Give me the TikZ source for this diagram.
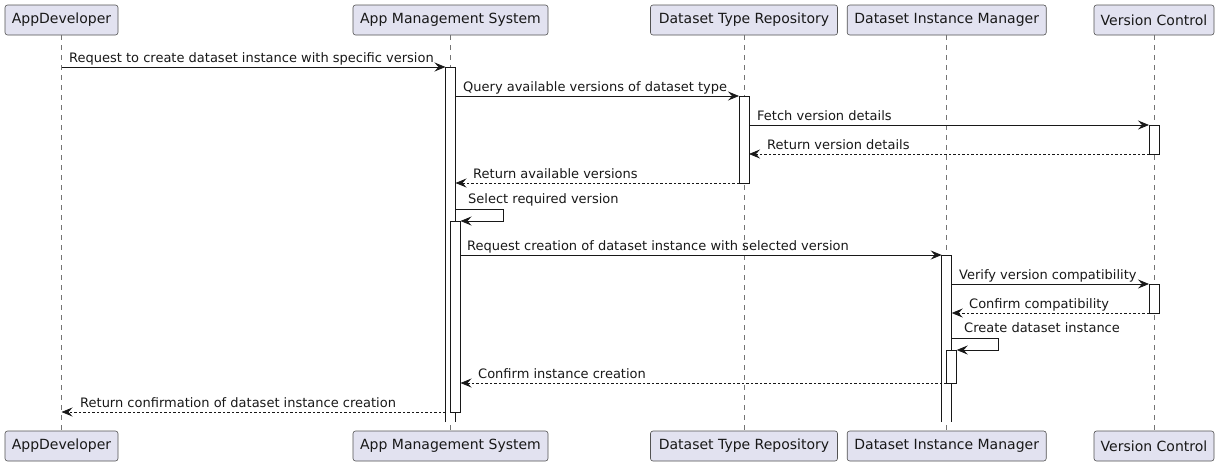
\documentclass[tikz,border=0pt]{standalone}
\usepackage{fontspec}
\setmainfont{DejaVu Sans}
\usetikzlibrary{arrows.meta}
\definecolor{partfill}{HTML}{E2E2F0}
\definecolor{lineclr}{HTML}{181818}
\begin{document}
\begin{tikzpicture}[x=1pt,y=-1pt,
 part/.style={draw=lineclr!75, fill=partfill, rounded corners=2.5pt, line width=0.6pt,
   minimum height=30pt, inner sep=0pt, font=\fontsize{14}{16}\selectfont, text=lineclr},
 life/.style={draw=lineclr!60, dash pattern=on 5pt off 5pt, line width=0.6pt},
 actbar/.style={draw=lineclr, fill=white, line width=0.8pt},
 msg/.style={draw=lineclr, line width=0.8pt, -{Stealth[length=11pt,width=9pt,inset=4pt]}},
 ret/.style={msg, dash pattern=on 2.5pt off 2pt},
 lbl/.style={anchor=base west, font=\fontsize{13}{15}\selectfont, text=lineclr, inner sep=0pt}
]
\useasboundingbox (0,0) rectangle (1220,466);
% participants
\node[part, minimum width=113pt] (pA)  at (61.5,20) {AppDeveloper};
\node[part, minimum width=195pt] (pB)  at (450.5,20) {App Management System};
\node[part, minimum width=187pt] (pC)  at (744,20) {Dataset Type Repository};
\node[part, minimum width=199pt] (pD)  at (946.7,20) {Dataset Instance Manager};
\node[part, minimum width=120pt] (pE)  at (1154,20) {Version Control};
\node[part, minimum width=113pt] (pAb) at (61.5,446) {AppDeveloper};
\node[part, minimum width=195pt] (pBb) at (450.5,446) {App Management System};
\node[part, minimum width=187pt] (pCb) at (744,446) {Dataset Type Repository};
\node[part, minimum width=199pt] (pDb) at (946.7,446) {Dataset Instance Manager};
\node[part, minimum width=120pt] (pEb) at (1154,446) {Version Control};
% lifelines
\foreach \p in {A,B,C,D,E}{\draw[life] (p\p.south) -- (p\p b.north);}
% activation bars
\fill[white] (445.5,67) rectangle (455.5,422);
\draw[lineclr, line width=0.8pt] (445.5,422) -- (445.5,67) -- (455.5,67) -- (455.5,422);
\draw[actbar] (739,96) rectangle (749,183);
\draw[actbar] (1149,125) rectangle (1159,154);
\draw[actbar] (450.5,221) rectangle (460.5,412);
\fill[white] (941.7,255) rectangle (951.7,422);
\draw[lineclr, line width=0.8pt] (941.7,422) -- (941.7,255) -- (951.7,255) -- (951.7,422);
\draw[actbar] (1149,284) rectangle (1159,313);
\draw[actbar] (946.7,350) rectangle (956.7,383);
% message end points
\coordinate (m1s) at (61.5,67);   \coordinate (m1e) at (445.5,67);
\coordinate (m2s) at (455.5,96);  \coordinate (m2e) at (739,96);
\coordinate (m3s) at (749,125);   \coordinate (m3e) at (1149,125);
\coordinate (m4s) at (1149,154);  \coordinate (m4e) at (749,154);
\coordinate (m5s) at (739,183);   \coordinate (m5e) at (455.5,183);
\coordinate (m6s) at (455.5,209); \coordinate (m6a) at (503.5,209);
\coordinate (m6b) at (503.5,221); \coordinate (m6e) at (460.5,221);
\coordinate (m7s) at (460.5,255); \coordinate (m7e) at (941.7,255);
\coordinate (m8s) at (951.7,284); \coordinate (m8e) at (1149,284);
\coordinate (m9s) at (1149,313);  \coordinate (m9e) at (951.7,313);
\coordinate (m10s) at (951.7,338); \coordinate (m10a) at (998.5,338);
\coordinate (m10b) at (998.5,350); \coordinate (m10e) at (956.7,350);
\coordinate (m11s) at (946.7,383); \coordinate (m11e) at (460.5,383);
\coordinate (m12s) at (445.5,412); \coordinate (m12e) at (61.5,412);
% messages
\draw[msg] (m1s) -- (m1e);
\node[lbl] (t1) at (69,62.5) {Request to create dataset instance with specific version};
\draw[msg] (m2s) -- (m2e);
\node[lbl] (t2) at (463,91.5) {Query available versions of dataset type};
\draw[msg] (m3s) -- (m3e);
\node[lbl] (t3) at (757,120.5) {Fetch version details};
\draw[ret] (m4s) -- (m4e);
\node[lbl] (t4) at (767,149.5) {Return version details};
\draw[ret] (m5s) -- (m5e);
\node[lbl] (t5) at (473,178.5) {Return available versions};
\draw[msg] (m6s) -- (m6a) -- (m6b) -- (m6e);
\node[lbl] (t6) at (468,203.5) {Select required version};
\draw[msg] (m7s) -- (m7e);
\node[lbl] (t7) at (467,250.5) {Request creation of dataset instance with selected version};
\draw[msg] (m8s) -- (m8e);
\node[lbl] (t8) at (959,279.5) {Verify version compatibility};
\draw[ret] (m9s) -- (m9e);
\node[lbl] (t9) at (969,308.5) {Confirm compatibility};
\draw[msg] (m10s) -- (m10a) -- (m10b) -- (m10e);
\node[lbl] (t10) at (964,332.5) {Create dataset instance};
\draw[ret] (m11s) -- (m11e);
\node[lbl] (t11) at (478,378.5) {Confirm instance creation};
\draw[ret] (m12s) -- (m12e);
\node[lbl] (t12) at (80,407.5) {Return confirmation of dataset instance creation};
\end{tikzpicture}
\end{document}
